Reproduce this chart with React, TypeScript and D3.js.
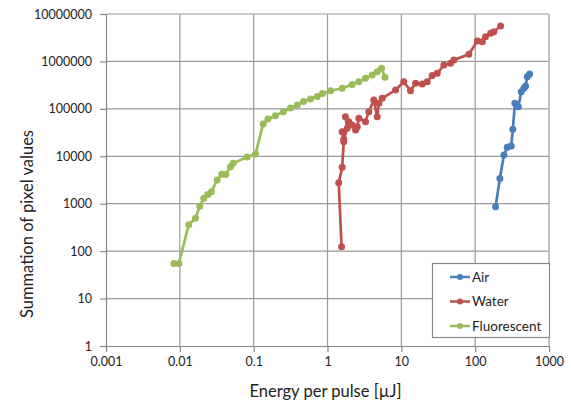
import * as d3 from "d3";
import { useEffect, useRef } from "react";

// energy per pulse [uJ] and summation of pixel values
const airEnergy = [189, 216, 245, 272, 308, 324, 345, 384, 421, 457, 482, 508, 546];
const airSum = [865, 3400, 10600, 15500, 16500, 37000, 131000, 111000, 230000, 271000, 303000, 476000, 543000];

const waterEnergy = [1.55, 1.42, 1.58, 1.66, 1.58, 1.66, 1.85, 1.75, 1.94, 2.16, 2.4, 2.53, 2.66, 3.27, 3.63, 4.24, 4.71, 4.96, 5.51, 8.35, 10.8, 13.3, 15.6, 19.2, 22.4, 26.2, 30.7, 37.7, 46.4, 51.5, 82.1, 107, 125, 138, 162, 179, 221];
const waterSum = [124, 2770, 5860, 20300, 33000, 22800, 38900, 68400, 53600, 45700, 35800, 42000, 63200, 53600, 87100, 153700, 68400, 131000, 166800, 249500, 373800, 241300, 346000, 334000, 373800, 505000, 562000, 841000, 913000, 1071000, 1413000, 2698000, 2606000, 3321000, 3918000, 4235000, 5583000];

const fluoEnergy = [0.0083, 0.0097, 0.0132, 0.0163, 0.0186, 0.0211, 0.024, 0.0268, 0.032, 0.037, 0.0419, 0.0485, 0.0528, 0.0817, 0.106, 0.1345, 0.156, 0.197, 0.253, 0.315, 0.389, 0.473, 0.589, 0.725, 0.855, 1.1, 1.58, 2.16, 2.66, 3.27, 4.03, 4.71, 5.39, 6.01];
const fluoSum = [55, 55, 361, 493, 882, 1300, 1564, 1791, 3162, 4170, 4130, 6030, 7110, 9660, 11170, 47900, 61100, 71300, 87100, 104000, 120600, 142900, 161300, 182000, 210800, 241500, 271200, 326100, 373500, 440600, 517400, 607000, 716000, 462600];

const seriesNames = ["Air", "Water", "Fluorescent"];
const seriesColors = ["#4a7ebb", "#c0504d", "#9bbb59"];

const xTicks = [0.001, 0.01, 0.1, 1, 10, 100, 1000];
const yTicks = [1, 10, 100, 1000, 10000, 100000, 1000000, 10000000];

export default function App() {
  const ref = useRef<SVGSVGElement>(null);

  useEffect(() => {
    const svg = d3.select(ref.current);
    svg.selectAll("*").remove();

    const left = 106, right = 549, top = 14, bottom = 346;
    const x = d3.scaleLog().domain([0.001, 1000]).range([left, right]);
    const y = d3.scaleLog().domain([1, 10000000]).range([bottom, top]);
    const font = "Lato, 'Open Sans', sans-serif";

    // grid
    svg.append("g").selectAll("line").data(xTicks.slice(1)).enter().append("line")
      .attr("x1", d => x(d)).attr("x2", d => x(d))
      .attr("y1", top).attr("y2", bottom)
      .attr("stroke", "#9a9a9a").attr("stroke-width", 1.2);
    svg.append("g").selectAll("line").data(yTicks.slice(1)).enter().append("line")
      .attr("x1", left).attr("x2", right)
      .attr("y1", d => y(d)).attr("y2", d => y(d))
      .attr("stroke", "#9a9a9a").attr("stroke-width", 1.2);

    // axes
    const xAxis = svg.append("g")
      .attr("transform", `translate(0,${bottom})`)
      .call(d3.axisBottom(x).tickValues(xTicks).tickFormat(d => String(d)).tickSizeInner(6).tickSizeOuter(0).tickPadding(5));
    const yAxis = svg.append("g")
      .attr("transform", `translate(${left},0)`)
      .call(d3.axisLeft(y).tickValues(yTicks).tickFormat(d => String(d)).tickSizeInner(6).tickSizeOuter(0).tickPadding(8));
    [xAxis, yAxis].forEach(a => {
      a.select(".domain").attr("stroke", "#888").attr("stroke-width", 1.2);
      a.selectAll(".tick line").attr("stroke", "#888").attr("stroke-width", 1.2);
      a.selectAll("text").attr("fill", "#222").style("font-family", font).style("font-size", "12.5px");
    });

    svg.append("text")
      .attr("x", (left + right) / 2 - 2).attr("y", 397)
      .attr("text-anchor", "middle")
      .style("font-family", font).style("font-size", "16.5px").attr("fill", "#222")
      .text("Energy per pulse [µJ]");
    svg.append("text")
      .attr("transform", `translate(33,${224}) rotate(-90)`)
      .attr("text-anchor", "middle")
      .style("font-family", font).style("font-size", "16.5px").attr("fill", "#222")
      .text("Summation of pixel values");

    // series
    const series = [
      d3.zip(airEnergy, airSum),
      d3.zip(waterEnergy, waterSum),
      d3.zip(fluoEnergy, fluoSum),
    ];
    const line = d3.line<number[]>().x(d => x(d[0])).y(d => y(d[1]));
    series.forEach((pts, i) => {
      const g = svg.append("g");
      g.append("path").datum(pts)
        .attr("d", line)
        .attr("fill", "none")
        .attr("stroke", seriesColors[i])
        .attr("stroke-width", 2.7);
      g.selectAll("circle").data(pts).enter().append("circle")
        .attr("cx", d => x(d[0])).attr("cy", d => y(d[1]))
        .attr("r", 3.5)
        .attr("fill", seriesColors[i]);
    });

    // legend
    const lg = svg.append("g");
    lg.append("rect")
      .attr("x", 432.5).attr("y", 263.5).attr("width", 117).attr("height", 74)
      .attr("fill", "white").attr("stroke", "#888").attr("stroke-width", 1.2);
    seriesNames.forEach((name, i) => {
      const cy = 277 + i * 24.5;
      lg.append("line")
        .attr("x1", 450).attr("x2", 470).attr("y1", cy).attr("y2", cy)
        .attr("stroke", seriesColors[i]).attr("stroke-width", 2.5);
      lg.append("circle").attr("cx", 460).attr("cy", cy).attr("r", 3).attr("fill", seriesColors[i]);
      lg.append("text")
        .attr("x", 472).attr("y", cy + 4.5)
        .style("font-family", font).style("font-size", "13.5px").attr("fill", "#222")
        .text(name);
    });
  }, []);

  return (
    <svg ref={ref} width={571} height={402}
      style={{ position: "absolute", left: 0, top: 0, background: "white" }} />
  );
}
